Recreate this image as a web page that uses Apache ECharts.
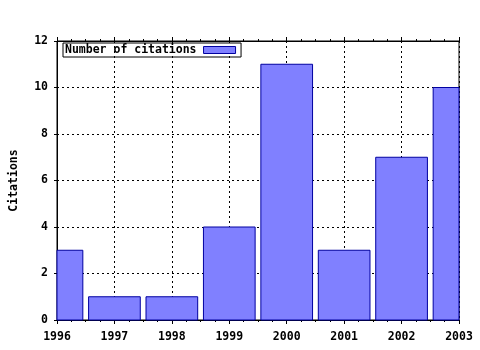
<!DOCTYPE html>
<html><head><meta charset="utf-8">
<script src="https://cdn.jsdelivr.net/npm/echarts@6/dist/echarts.min.js"></script>
<style>html,body{margin:0;padding:0;background:#fff}#c{width:480px;height:350px}</style>
</head><body><div id="c"></div>
<script>
var years = [1996, 1997, 1998, 1999, 2000, 2001, 2002, 2003];
var citations = [3, 1, 1, 4, 11, 3, 7, 10];
var seriesName = 'Number of citations';
var yAxisName = 'Citations';

var FONT = 'DejaVu Sans Mono';
var chart = echarts.init(document.getElementById('c'));
var data = years.map(function (y, i) { return [y, citations[i]]; });
var grid = { left: 57, right: 21, top: 41, bottom: 30, show: true, borderColor: '#000', borderWidth: 1, backgroundColor: 'transparent', containLabel: false, outerBoundsMode: 'none' };
var gridLine = { show: true, lineStyle: { color: '#000', type: [2, 3], width: 1 } };
function plain(v) { return String(v); }
chart.setOption({
  animation: false,
  grid: grid,
  legend: {
    left: 63, top: 43, align: 'right',
    borderColor: '#000', borderWidth: 1, padding: [1, 5, 1, 2],
    itemWidth: 32, itemHeight: 7, itemGap: 0,
    textStyle: { fontFamily: FONT, fontWeight: 'bold', fontSize: 11.5, color: '#000', padding: [0, 2, 0, 0] },
    data: [{ name: seriesName, icon: 'rect', itemStyle: { color: '#8080ff', borderColor: '#0000a0', borderWidth: 1 } }]
  },
  xAxis: [{
    type: 'value', min: 1996, max: 2003, interval: 1, position: 'bottom',
    axisLine: { show: true, onZero: false, lineStyle: { color: '#000' } },
    axisTick: { show: true, inside: false, length: 4, lineStyle: { color: '#000' } },
    minorTick: { show: true, splitNumber: 4, length: 2, lineStyle: { color: '#000' } },
    axisLabel: { fontFamily: FONT, fontWeight: 'bold', fontSize: 11.5, color: '#000', margin: 11, formatter: plain },
    splitLine: gridLine
  }, {
    type: 'value', min: 1996, max: 2003, interval: 1, position: 'top',
    axisLine: { show: true, onZero: false, lineStyle: { color: '#000' } },
    axisTick: { show: true, inside: false, length: 4, lineStyle: { color: '#000' } },
    minorTick: { show: true, splitNumber: 4, length: 2, lineStyle: { color: '#000' } },
    axisLabel: { show: false }, splitLine: { show: false }
  }],
  yAxis: [{
    type: 'value', min: 0, max: 12, interval: 2,
    name: yAxisName, nameLocation: 'middle', nameGap: 37, nameRotate: 90,
    nameTextStyle: { fontFamily: FONT, fontWeight: 'bold', fontSize: 11.5, color: '#000' },
    axisLine: { show: true, onZero: false, lineStyle: { color: '#000' } },
    axisTick: { show: true, inside: false, length: 3, lineStyle: { color: '#000' } },
    axisLabel: { fontFamily: FONT, fontWeight: 'bold', fontSize: 11.5, color: '#000', margin: 9, formatter: plain },
    splitLine: gridLine
  }],
  series: [{
    name: seriesName, type: 'custom', xAxisIndex: 0, yAxisIndex: 0,
    data: data, z: 3,
    itemStyle: { color: '#8080ff' },
    renderItem: function (params, api) {
      var x = api.value(0), y = api.value(1);
      var p0 = api.coord([x - 0.45, y]);
      var p1 = api.coord([x + 0.45, 0]);
      var cs = params.coordSys;
      var rect = echarts.graphic.clipRectByRect(
        { x: p0[0], y: p0[1], width: p1[0] - p0[0], height: p1[1] - p0[1] },
        { x: cs.x, y: cs.y, width: cs.width, height: cs.height });
      if (!rect) return;
      return { type: 'rect', shape: rect, style: { fill: '#8080ff', stroke: '#0000a0', lineWidth: 1 } };
    }
  }]
});
</script></body></html>
